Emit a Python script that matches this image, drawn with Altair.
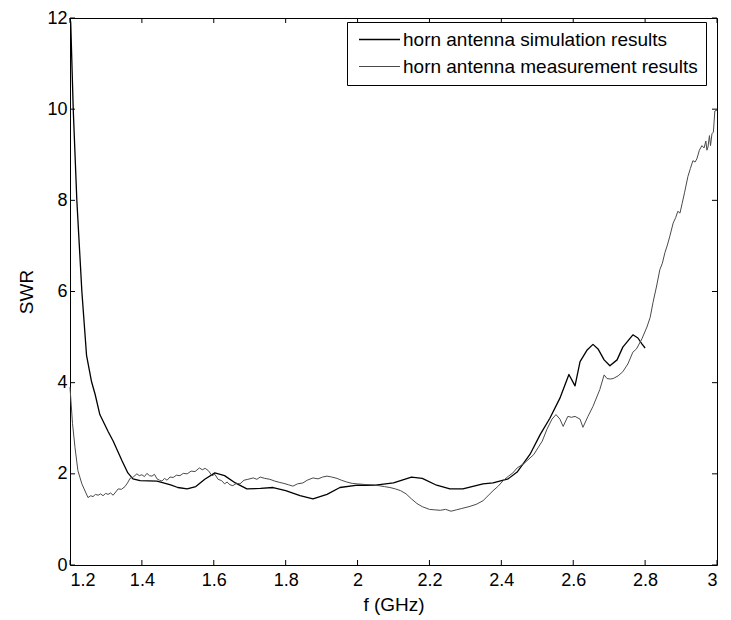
import altair as alt
import pandas as pd

SIM = "horn antenna simulation results"
MEAS = "horn antenna measurement results"

sim_f = [1.200, 1.202, 1.209, 1.219, 1.233, 1.246, 1.260, 1.270, 1.283, 1.306, 1.320,
         1.345, 1.361, 1.375, 1.395, 1.442, 1.480, 1.500, 1.526, 1.550, 1.575, 1.603,
         1.630, 1.660, 1.692, 1.730, 1.765, 1.800, 1.840, 1.876, 1.915, 1.951, 2.000,
         2.050, 2.100, 2.150, 2.180, 2.220, 2.257, 2.293, 2.349, 2.377, 2.419, 2.444,
         2.480, 2.508, 2.535, 2.563, 2.588, 2.605, 2.619, 2.638, 2.655, 2.669, 2.686,
         2.702, 2.722, 2.738, 2.766, 2.780, 2.791, 2.800]
sim_swr = [12.0, 11.9, 10.0, 8.0, 6.0, 4.6, 4.02, 3.74, 3.30, 2.93, 2.72,
           2.28, 2.02, 1.89, 1.85, 1.84, 1.76, 1.70, 1.67, 1.72, 1.88, 2.02,
           1.96, 1.80, 1.67, 1.68, 1.70, 1.63, 1.52, 1.45, 1.55, 1.70, 1.75,
           1.75, 1.80, 1.93, 1.90, 1.75, 1.67, 1.67, 1.78, 1.80, 1.89, 2.04,
           2.43, 2.86, 3.22, 3.66, 4.18, 3.93, 4.46, 4.71, 4.84, 4.74, 4.50,
           4.37, 4.50, 4.78, 5.05, 4.98, 4.85, 4.76]

meas_f = [1.200, 1.207, 1.214, 1.222, 1.233, 1.250, 1.258, 1.264, 1.271, 1.278,
          1.285, 1.292, 1.299, 1.306, 1.313, 1.320, 1.327, 1.334, 1.343, 1.353,
          1.360, 1.367, 1.376, 1.386, 1.393, 1.400, 1.407, 1.414, 1.421, 1.428,
          1.435, 1.442, 1.449, 1.456, 1.463, 1.470, 1.478, 1.487, 1.496, 1.506,
          1.515, 1.526, 1.537, 1.548, 1.560, 1.568, 1.576, 1.585, 1.595, 1.603,
          1.612, 1.622, 1.630, 1.637, 1.645, 1.653, 1.663, 1.673, 1.684, 1.695,
          1.710, 1.720, 1.729, 1.742, 1.756, 1.770, 1.784, 1.795, 1.808, 1.820,
          1.833, 1.848, 1.860, 1.876, 1.890, 1.903, 1.915, 1.928, 1.943, 1.955,
          1.970, 1.985, 2.000, 2.015, 2.030, 2.045, 2.060, 2.075, 2.090, 2.105,
          2.120, 2.135, 2.150, 2.165, 2.180, 2.200, 2.215, 2.230, 2.245, 2.260,
          2.275, 2.290, 2.310, 2.330, 2.349, 2.363, 2.377, 2.390, 2.405, 2.420,
          2.432, 2.444, 2.462, 2.480, 2.490, 2.502, 2.514, 2.527, 2.541, 2.552,
          2.563, 2.572, 2.585, 2.595, 2.605, 2.619, 2.627, 2.641, 2.655, 2.674,
          2.686, 2.694, 2.703, 2.711, 2.725, 2.738, 2.752, 2.766, 2.776, 2.791,
          2.805, 2.814, 2.822, 2.832, 2.841, 2.848, 2.855, 2.862, 2.869, 2.878,
          2.885, 2.891, 2.897, 2.903, 2.910, 2.919, 2.926, 2.933, 2.939, 2.944,
          2.951, 2.958, 2.964, 2.969, 2.972, 2.975, 2.979, 2.982, 2.986, 2.990,
          2.994, 3.000]
meas_swr = [3.9, 3.1, 2.57, 2.07, 1.78, 1.48, 1.52, 1.50, 1.55, 1.53,
            1.56, 1.52, 1.57, 1.55, 1.58, 1.53, 1.60, 1.67, 1.66, 1.72,
            1.80, 1.90, 1.93, 2.00, 1.96, 1.98, 1.94, 2.01, 1.96, 1.95,
            1.99, 1.89, 1.86, 1.84, 1.90, 1.86, 1.93, 1.92, 1.97, 1.96,
            2.01, 2.00, 2.06, 2.05, 2.13, 2.09, 2.12, 2.07, 1.96, 1.99,
            1.88, 1.85, 1.78, 1.82, 1.76, 1.74, 1.79, 1.78, 1.86, 1.88,
            1.91, 1.88, 1.93, 1.90, 1.88, 1.84, 1.81, 1.79, 1.76, 1.73,
            1.78, 1.80, 1.86, 1.91, 1.89, 1.93, 1.95, 1.93, 1.90, 1.86,
            1.82, 1.79, 1.78, 1.77, 1.76, 1.75, 1.74, 1.72, 1.70, 1.67,
            1.63, 1.56, 1.45, 1.35, 1.28, 1.22, 1.21, 1.20, 1.22, 1.18,
            1.21, 1.24, 1.28, 1.33, 1.41, 1.52, 1.63, 1.72, 1.85, 1.95,
            2.02, 2.13, 2.22, 2.35, 2.42, 2.57, 2.72, 2.98, 3.20, 3.30,
            3.20, 3.04, 3.26, 3.24, 3.26, 3.20, 3.02, 3.26, 3.48, 3.85,
            4.17, 4.09, 4.08, 4.09, 4.15, 4.24, 4.41, 4.67, 4.74, 4.96,
            5.22, 5.43, 5.76, 6.12, 6.48, 6.62, 6.85, 7.02, 7.22, 7.50,
            7.62, 7.76, 7.72, 7.93, 8.18, 8.52, 8.70, 8.87, 8.84, 8.91,
            9.10, 9.20, 9.15, 9.30, 9.10, 9.17, 9.42, 9.20, 9.46, 9.50,
            9.96, 9.98]

x_ticks = [1.2, 1.4, 1.6, 1.8, 2.0, 2.2, 2.4, 2.6, 2.8, 3.0]
y_ticks = [0, 2, 4, 6, 8, 10, 12]

W, H = 647, 547
FONT = "Liberation Sans"

df = pd.concat([
    pd.DataFrame({"f": sim_f, "swr": sim_swr, "series": SIM}),
    pd.DataFrame({"f": meas_f, "swr": meas_swr, "series": MEAS}),
], ignore_index=True)
df["idx"] = range(len(df))

xscale = alt.Scale(domain=[1.2, 3.0], nice=False, zero=False)
yscale = alt.Scale(domain=[0, 12], nice=False, zero=False)
xaxis = alt.Axis(values=x_ticks, format="~g", labelPadding=6, titlePadding=6)
yaxis = alt.Axis(values=y_ticks, labelPadding=3, titlePadding=10)

X = alt.X("f:Q", scale=xscale, title="f (GHz)", axis=xaxis)
Y = alt.Y("swr:Q", scale=yscale, title="SWR", axis=yaxis)

lines = alt.Chart(df).mark_line(strokeJoin="round").encode(
    x=X, y=Y,
    color=alt.Color("series:N",
                    scale=alt.Scale(domain=[SIM, MEAS], range=["#000000", "#4a4a4a"]),
                    legend=alt.Legend(title=None, orient="none", legendX=277, legendY=4,
                                      strokeColor="black", fillColor="white", padding=8,
                                      labelFont=FONT, labelFontSize=19, labelColor="black",
                                      labelLimit=420, labelOffset=14, rowPadding=7,
                                      symbolType="M-4.1,0H4.1", symbolSize=100,
                                      symbolOffset=15, symbolStrokeWidth=1.1)),
    strokeWidth=alt.StrokeWidth("series:N",
                                scale=alt.Scale(domain=[SIM, MEAS], range=[1.3, 1.0]),
                                legend=None),
    order="idx:Q",
)

xt = pd.DataFrame({"f": x_ticks})
yt = pd.DataFrame({"swr": y_ticks})
TL = 5

xb = alt.Chart(xt).mark_rule(color="black", strokeWidth=1).encode(
    x=X, y=alt.value(H), y2=alt.value(H - TL))
xtop = alt.Chart(xt).mark_rule(color="black", strokeWidth=1).encode(
    x=X, y=alt.value(0), y2=alt.value(TL))
yl = alt.Chart(yt).mark_rule(color="black", strokeWidth=1).encode(
    y=Y, x=alt.value(0), x2=alt.value(TL))
yr = alt.Chart(yt).mark_rule(color="black", strokeWidth=1).encode(
    y=Y, x=alt.value(W), x2=alt.value(W - TL))

chart = alt.layer(lines, xb, xtop, yl, yr).properties(
    width=W, height=H,
    autosize=alt.AutoSizeParams(type="none"),
    padding={"left": 62, "top": 10, "right": 6, "bottom": 50},
    background="white",
).configure_view(
    stroke="black", strokeWidth=1
).configure_axis(
    domain=False, grid=False, ticks=False,
    labelFont=FONT, labelFontSize=18, labelColor="black",
    titleFont=FONT, titleFontSize=19, titleFontWeight="normal", titleColor="black",
)

chart.save("out.html", embed_options={"renderer": "svg", "actions": False})
